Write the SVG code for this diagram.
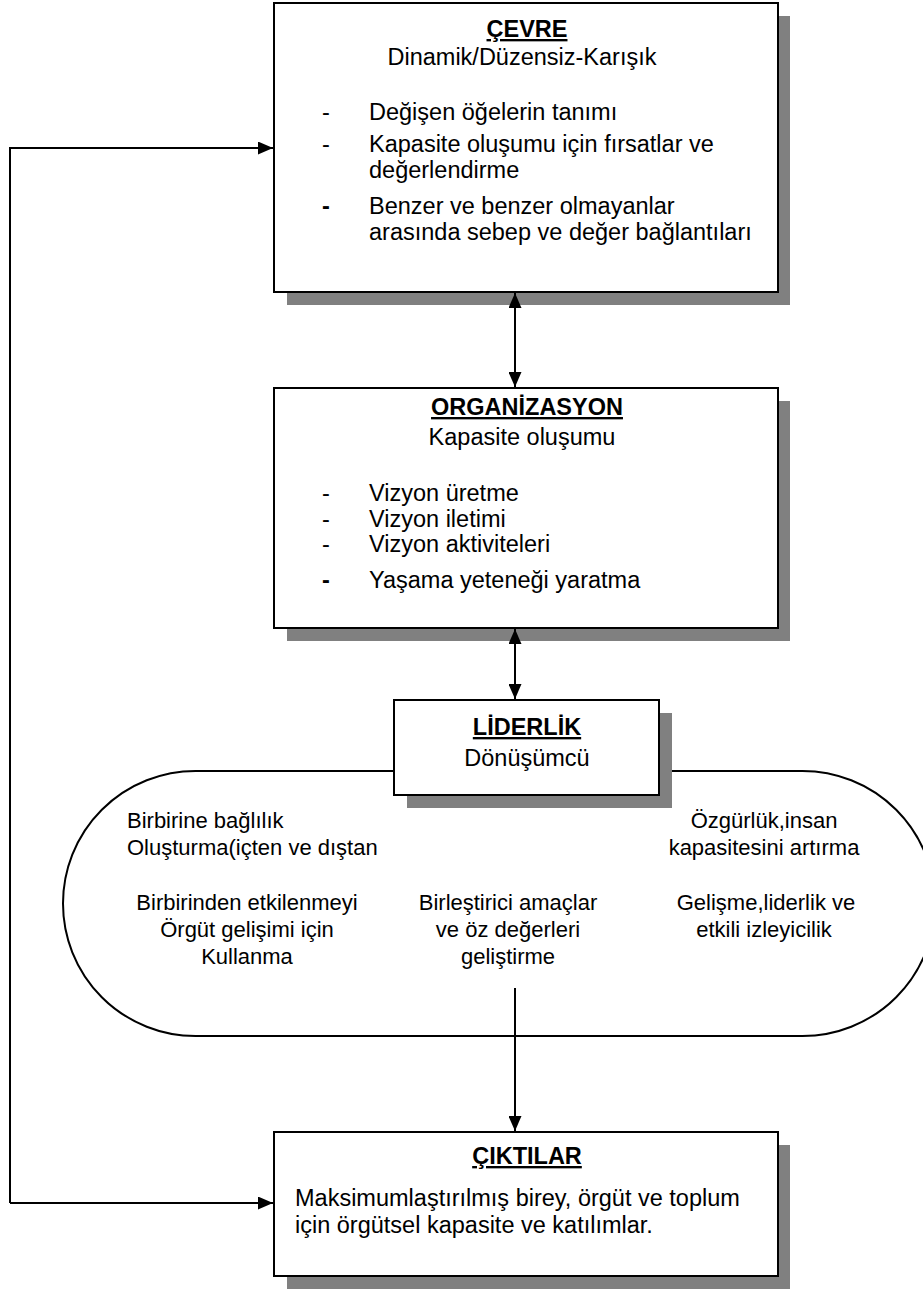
<svg xmlns="http://www.w3.org/2000/svg" width="923" height="1289" viewBox="0 0 923 1289">
<style>
.box{fill:#fff;stroke:#000;stroke-width:2}
.sh{fill:#808080}
.t{font-family:"Liberation Sans",Arial,sans-serif;font-size:23.5px;fill:#000}
.o{font-family:"Liberation Sans",Arial,sans-serif;font-size:22px;fill:#000}
.h{font-weight:bold;text-decoration:underline}
.c{text-anchor:middle}
.ln{fill:none;stroke:#000;stroke-width:2}
</style>
<defs>
<marker id="ah" viewBox="0 0 15 13" refX="15" refY="6.5" markerWidth="15" markerHeight="13" markerUnits="userSpaceOnUse" orient="auto-start-reverse">
<path d="M0,0 L15,6.5 L0,13 Z" fill="#000"/>
</marker>
</defs>
<rect width="923" height="1289" fill="#fff"/>
<g id="oval">
<rect x="63" y="771" width="872" height="265" rx="132.5" ry="132.5" fill="#fff" stroke="#000" stroke-width="2"/>
<text class="o" x="127" y="828">Birbirine bağlılık</text>
<text class="o" x="127" y="855">Oluşturma(içten ve dıştan</text>
<text class="o c" x="247" y="910">Birbirinden etkilenmeyi</text>
<text class="o c" x="247" y="937">Örgüt gelişimi için</text>
<text class="o c" x="247" y="964">Kullanma</text>
<text class="o c" x="508" y="910">Birleştirici amaçlar</text>
<text class="o c" x="508" y="937">ve öz değerleri</text>
<text class="o c" x="508" y="964">geliştirme</text>
<text class="o c" x="764" y="828">Özgürlük,insan</text>
<text class="o c" x="764" y="855">kapasitesini artırma</text>
<text class="o c" x="766" y="910">Gelişme,liderlik ve</text>
<text class="o c" x="764" y="937">etkili izleyicilik</text>
</g>
<g id="cevre">
<rect class="sh" x="287" y="16" width="503" height="289"/>
<rect class="box" x="274" y="3" width="504" height="289"/>
<text class="t h c" x="527" y="37">ÇEVRE</text>
<text class="t c" x="522" y="65">Dinamik/Düzensiz-Karışık</text>
<text class="t" x="322" y="120">-</text>
<text class="t" x="369" y="120">Değişen öğelerin tanımı</text>
<text class="t" x="322" y="152">-</text>
<text class="t" x="369" y="152">Kapasite oluşumu için fırsatlar ve</text>
<text class="t" x="369" y="178">değerlendirme</text>
<text class="t" x="322" y="214" font-weight="bold">-</text>
<text class="t" x="369" y="214">Benzer ve benzer olmayanlar</text>
<text class="t" x="369" y="240">arasında sebep ve değer bağlantıları</text>
</g>
<g id="organizasyon">
<rect class="sh" x="287" y="401" width="503" height="240"/>
<rect class="box" x="274" y="388" width="504" height="240"/>
<text class="t h c" x="527" y="415">ORGANİZASYON</text>
<text class="t c" x="522" y="445">Kapasite oluşumu</text>
<text class="t" x="322" y="501">-</text>
<text class="t" x="369" y="501">Vizyon üretme</text>
<text class="t" x="322" y="527">-</text>
<text class="t" x="369" y="527">Vizyon iletimi</text>
<text class="t" x="322" y="552">-</text>
<text class="t" x="369" y="552">Vizyon aktiviteleri</text>
<text class="t" x="322" y="588" font-weight="bold">-</text>
<text class="t" x="369" y="588">Yaşama yeteneği yaratma</text>
</g>
<g id="liderlik">
<rect class="sh" x="407" y="713" width="265" height="95"/>
<rect class="box" x="394" y="700" width="265" height="95"/>
<text class="t h c" x="527" y="735" font-size="24px">LİDERLİK</text>
<text class="t c" x="527" y="766" font-size="24px">Dönüşümcü</text>
</g>
<g id="ciktilar">
<rect class="sh" x="287" y="1145" width="503" height="144"/>
<rect class="box" x="274" y="1132" width="504" height="144"/>
<text class="t h c" x="527" y="1164">ÇIKTILAR</text>
<text class="t" x="295" y="1206" font-size="24px">Maksimumlaştırılmış birey, örgüt ve toplum</text>
<text class="t" x="295" y="1233" font-size="24px">için örgütsel kapasite ve katılımlar.</text>
</g>
<g id="connectors">
<line class="ln" x1="515" y1="293" x2="515" y2="387" marker-start="url(#ah)" marker-end="url(#ah)"/>
<line class="ln" x1="515" y1="629" x2="515" y2="699" marker-start="url(#ah)" marker-end="url(#ah)"/>
<line class="ln" x1="515" y1="988" x2="515" y2="1131" marker-end="url(#ah)"/>
<polyline class="ln" points="10,1203 10,148 273,148" marker-end="url(#ah)"/>
<line class="ln" x1="10" y1="1203" x2="273" y2="1203" marker-end="url(#ah)"/>
</g>
</svg>
